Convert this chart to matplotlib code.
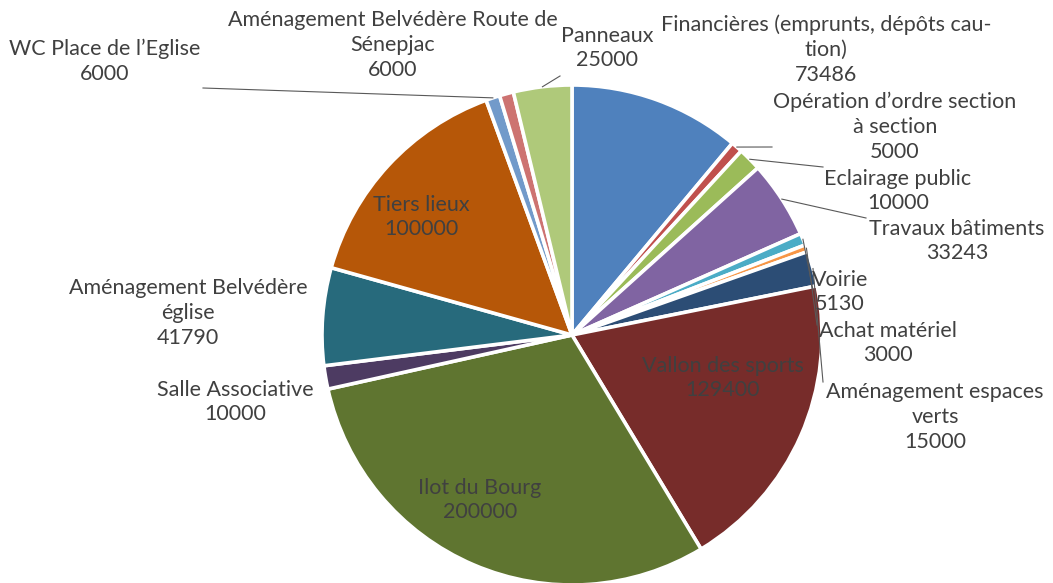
import numpy as np
import matplotlib
matplotlib.use('Agg')
import matplotlib.pyplot as plt

W, H = 1053, 583

labels = [
    "Financières (emprunts, dépôts cau-\ntion)",
    "Opération d’ordre section\nà section",
    "Eclairage public",
    "Travaux bâtiments",
    "Voirie",
    "Achat matériel",
    "Aménagement espaces\nverts",
    "Vallon des sports",
    "Ilot du Bourg",
    "Salle Associative",
    "Aménagement Belvédère\néglise",
    "Tiers lieux",
    "WC Place de l’Eglise",
    "Aménagement Belvédère Route de\nSénepjac",
    "Panneaux",
]
values = [73486, 5000, 10000, 33243, 5130, 3000, 15000, 129400,
          200000, 10000, 41790, 100000, 6000, 6000, 25000]
colors = ['#4F81BD', '#C0504D', '#9BBB59', '#8064A2', '#4BACC6', '#F79646',
          '#2C4D75', '#772C2A', '#5F7530', '#4D3B62', '#276A7C', '#B65708',
          '#729ACA', '#CD7371', '#AFC97A']

# label placement in pixels: (x, y, leader end or None)
label_pos = [
    (826, 50, None),
    (895, 127, (772, 147)),
    (898, 191, (823, 167)),
    (957, 241, (866, 218)),
    (840, 292, (813, 290)),
    (888, 343, (817, 325)),
    (935, 417, (823, 382)),
    (723, 378, None),
    (480, 500, None),
    (235, 402, None),
    (188, 313, None),
    (421, 217, None),
    (105, 61, (203, 88)),
    (393, 45, None),
    (607, 48, (560, 76)),
]

CX, CY, R = 572, 335, 250
TEXT = '#404040'

fig = plt.figure(figsize=(W / 100, H / 100), dpi=100)
ax = fig.add_axes([0, 0, 1, 1])

wedges, _ = ax.pie(values, colors=colors, startangle=-90, counterclock=True,
                   center=(CX, CY), radius=R,
                   wedgeprops=dict(edgecolor='white', linewidth=2.6))
ax.set_xlim(0, W)
ax.set_ylim(H, 0)
ax.set_aspect('equal')
ax.axis('off')

for w, lab, val, (x, y, end) in zip(wedges, labels, values, label_pos):
    ax.text(x, y, f"{lab}\n{val}", ha='center', va='center', color=TEXT,
            fontsize=15.5, family='Lato', linespacing=1.3)
    if end is not None:
        mid = np.deg2rad((w.theta1 + w.theta2) / 2)
        px = CX + R * np.cos(mid)
        py = CY + R * np.sin(mid)
        ax.plot([px, end[0]], [py, end[1]], color='#595959', lw=0.8)

fig.savefig('out.png', dpi=100)
